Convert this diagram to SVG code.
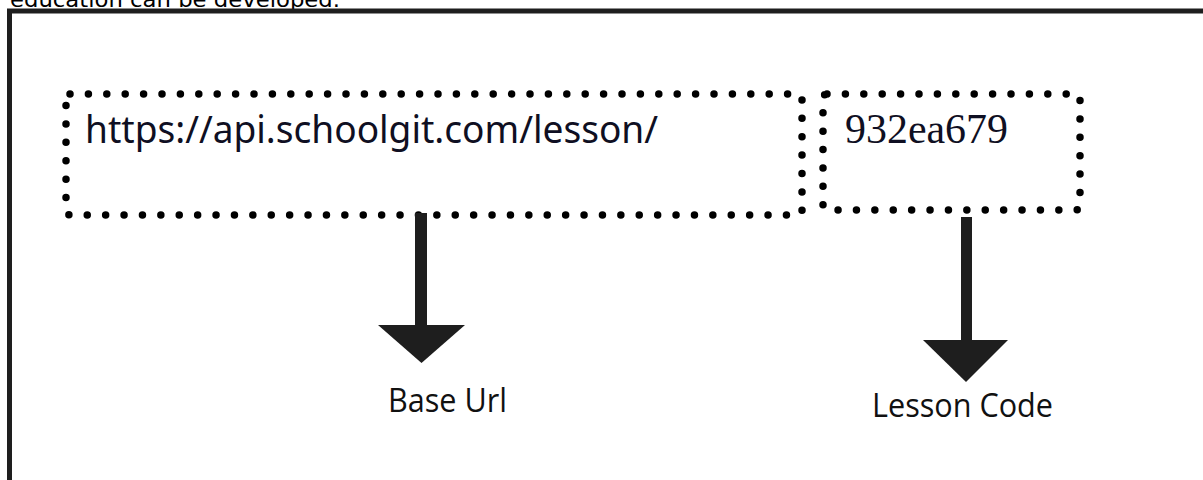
<svg xmlns="http://www.w3.org/2000/svg" width="1203" height="480" viewBox="0 0 1203 480">
<style>
.dots{fill:none;stroke:#000;stroke-width:7.5;stroke-linecap:round;stroke-dasharray:0 18.4}
.shaft{fill:#1e1e1e}
.lbl{font-family:"Open Sans","Noto Sans",sans-serif;font-size:32px;fill:#111}
</style>
<rect width="1203" height="480" fill="#fff"/>
<text x="10" y="6.5" font-family="DejaVu Sans, sans-serif" font-size="21" fill="#000" textLength="330" lengthAdjust="spacingAndGlyphs">education can be developed.</text>
<rect x="9.5" y="11" width="1260" height="600" fill="none" stroke="#1e1e1e" stroke-width="5"/>
<g id="base-url-box">
<rect class="dots" x="66" y="94" width="736" height="121" rx="4"/>
<text x="85" y="143" font-family="Noto Sans, Open Sans, sans-serif" font-size="38" fill="#0f0f22" textLength="573" lengthAdjust="spacingAndGlyphs">https://api.schoolgit.com/lesson/</text>
</g>
<g id="lesson-code-box">
<rect class="dots" x="823" y="94" width="257" height="116" rx="4"/>
<text x="845" y="143" font-family="Liberation Serif, serif" font-size="42" fill="#0f0f22" textLength="163" lengthAdjust="spacingAndGlyphs">932ea679</text>
</g>
<g id="connectors">
<rect class="shaft" x="415" y="213" width="12" height="114"/>
<polygon class="shaft" points="378,325 465,325 421.5,363"/>
<rect class="shaft" x="961" y="217" width="11" height="125"/>
<polygon class="shaft" points="923,340 1008,340 966,382"/>
</g>
<g id="base-url-label">
<text class="lbl" x="388" y="412" textLength="119" lengthAdjust="spacingAndGlyphs">Base Url</text>
</g>
<g id="lesson-code-label">
<text class="lbl" x="872" y="417" textLength="181" lengthAdjust="spacingAndGlyphs">Lesson Code</text>
</g>
</svg>
